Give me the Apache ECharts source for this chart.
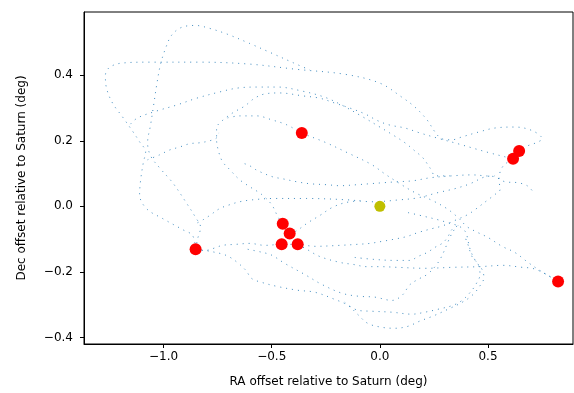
<!DOCTYPE html>
<html>
<head>
<meta charset="utf-8">
<script src="https://cdn.jsdelivr.net/npm/echarts@6/dist/echarts.min.js"></script>
<style>
  html, body { margin: 0; padding: 0; background: #fff; }
  #chart { width: 574px; height: 393px; }
</style>
</head>
<body>
<div id="chart"></div>
<script>
// moon positions at the plot epoch (deg, relative to Saturn)
const moonRA  = [-0.361, 0.644, 0.616, 0.824, -0.852, -0.449, -0.417, -0.454, -0.380];
const moonDec = [ 0.224, 0.169, 0.145, -0.229, -0.131, -0.053, -0.083, -0.116, -0.116];
const saturnPos = [0, 0];

// dotted tracks, [RA, Dec]
const trackA = [[-0.852,-0.131],[-0.866,-0.089],[-0.912,-0.071],[-1.005,-0.037],[-1.079,-0.007],[-1.111,0.036],[-1.106,0.081],[-1.093,0.136],[-1.083,0.166],[-1.111,0.197],[-1.144,0.230],[-1.190,0.273],[-1.236,0.315],[-1.264,0.361],[-1.269,0.400],[-1.250,0.424],[-1.194,0.437],[-1.065,0.440],[-0.833,0.440],[-0.602,0.434],[-0.384,0.418],[-0.162,0.403],[0.000,0.376],[0.102,0.333],[0.162,0.303],[0.218,0.264],[0.255,0.227],[0.287,0.206],[0.333,0.203],[0.380,0.212],[0.458,0.227],[0.532,0.239],[0.625,0.242],[0.708,0.230],[0.750,0.206],[0.722,0.194],[0.681,0.184],[0.644,0.169]];
const trackB = [[-0.852,-0.131],[-0.843,-0.100],[-0.829,-0.064],[-0.852,-0.034],[-0.898,0.014],[-0.958,0.072],[-1.019,0.118],[-1.060,0.154],[-1.074,0.194],[-1.060,0.249],[-1.046,0.309],[-1.032,0.370],[-1.014,0.434],[-0.991,0.482],[-0.963,0.522],[-0.917,0.546],[-0.852,0.552],[-0.787,0.543],[-0.704,0.525],[-0.602,0.497],[-0.509,0.470],[-0.407,0.440],[-0.324,0.416]];
const trackC = [[-1.153,0.251],[-1.120,0.270],[-1.032,0.291],[-0.940,0.309],[-0.847,0.330],[-0.741,0.349],[-0.657,0.361],[-0.565,0.364],[-0.472,0.364],[-0.361,0.352],[-0.255,0.333],[-0.176,0.309],[-0.079,0.273],[0.000,0.242],[0.060,0.218],[0.116,0.194],[0.162,0.169],[0.199,0.148],[0.231,0.118],[0.259,0.093],[0.324,0.093]];
const trackD = [[-0.449,-0.053],[-0.472,-0.031],[-0.500,0.005],[-0.546,0.036],[-0.602,0.060],[-0.648,0.081],[-0.694,0.112],[-0.727,0.136],[-0.745,0.166],[-0.755,0.203],[-0.755,0.239],[-0.731,0.260],[-0.681,0.285],[-0.625,0.306],[-0.579,0.330],[-0.532,0.343],[-0.463,0.346],[-0.356,0.337],[-0.278,0.330],[-0.208,0.315],[-0.139,0.300],[-0.069,0.282],[-0.009,0.261],[0.046,0.248],[0.116,0.239],[0.185,0.224],[0.278,0.206],[0.361,0.191],[0.444,0.175],[0.509,0.163],[0.579,0.151],[0.616,0.145]];
const trackE = [[-0.704,0.270],[-0.648,0.276],[-0.569,0.276],[-0.500,0.264],[-0.431,0.249],[-0.361,0.224],[-0.255,0.196],[-0.148,0.163],[-0.037,0.127],[0.023,0.099],[0.093,0.069],[0.162,0.042],[0.245,0.017],[0.310,-0.007],[0.361,-0.034],[0.403,-0.062],[0.444,-0.077],[0.500,-0.095],[0.565,-0.122],[0.625,-0.141],[0.685,-0.171],[0.731,-0.192],[0.778,-0.211],[0.824,-0.229]];
const trackF = [[-0.625,0.130],[-0.602,0.124],[-0.574,0.112],[-0.542,0.102],[-0.495,0.090],[-0.449,0.084],[-0.384,0.075],[-0.324,0.069],[-0.245,0.066],[-0.185,0.063],[-0.106,0.066],[-0.046,0.069],[0.014,0.072],[0.079,0.075],[0.153,0.078],[0.231,0.087],[0.333,0.093],[0.426,0.096],[0.486,0.093],[0.532,0.090],[0.579,0.075],[0.639,0.072],[0.681,0.063],[0.708,0.045]];
const trackG = [[-0.843,-0.050],[-0.815,-0.040],[-0.787,-0.028],[-0.741,-0.007],[-0.694,0.005],[-0.648,0.014],[-0.588,0.020],[-0.495,0.024],[-0.338,0.024],[-0.153,0.020],[-0.032,0.014],[0.093,0.020],[0.176,0.026],[0.269,0.042],[0.347,0.054],[0.417,0.069],[0.486,0.090],[0.532,0.093]];
const trackH = [[-0.852,-0.131],[-0.810,-0.135],[-0.773,-0.129],[-0.727,-0.119],[-0.667,-0.116],[-0.602,-0.113],[-0.532,-0.119],[-0.454,-0.116],[-0.380,-0.116],[-0.301,-0.122],[-0.185,-0.119],[-0.106,-0.116],[-0.046,-0.113],[0.009,-0.107],[0.060,-0.101],[0.125,-0.092],[0.176,-0.080],[0.241,-0.068],[0.292,-0.059],[0.347,-0.043],[0.407,-0.025],[0.440,-0.010],[0.500,0.020],[0.532,0.036],[0.556,0.052],[0.551,0.081],[0.556,0.105],[0.574,0.126],[0.616,0.145]];
const trackI = [[-0.380,-0.116],[-0.338,-0.131],[-0.278,-0.153],[-0.185,-0.171],[-0.125,-0.177],[-0.060,-0.184],[0.000,-0.184],[0.079,-0.186],[0.208,-0.189],[0.338,-0.186],[0.463,-0.184],[0.569,-0.180],[0.657,-0.186],[0.704,-0.189],[0.741,-0.198],[0.778,-0.211],[0.824,-0.229]];
const trackJ = [[-0.852,-0.131],[-0.787,-0.137],[-0.713,-0.149],[-0.667,-0.167],[-0.620,-0.195],[-0.593,-0.220],[-0.546,-0.232],[-0.477,-0.244],[-0.380,-0.256],[-0.301,-0.262],[-0.208,-0.284],[-0.148,-0.302],[-0.102,-0.330],[-0.056,-0.357],[0.009,-0.369],[0.069,-0.372],[0.130,-0.366],[0.185,-0.350],[0.245,-0.335],[0.315,-0.314],[0.380,-0.293],[0.426,-0.272],[0.458,-0.247],[0.481,-0.217],[0.472,-0.192],[0.444,-0.168],[0.421,-0.138],[0.407,-0.104],[0.398,-0.080],[0.370,-0.062],[0.315,-0.050],[0.269,-0.041],[0.208,-0.031],[0.130,-0.019]];
const trackK = [[-0.611,-0.131],[-0.546,-0.140],[-0.500,-0.149],[-0.440,-0.174],[-0.347,-0.208],[-0.269,-0.238],[-0.176,-0.265],[-0.102,-0.274],[-0.023,-0.277],[0.056,-0.287],[0.102,-0.272],[0.139,-0.239],[0.176,-0.223],[0.218,-0.208],[0.255,-0.184],[0.278,-0.162],[0.296,-0.138],[0.315,-0.108],[0.338,-0.077],[0.361,-0.059]];
const trackL = [[-0.162,-0.293],[-0.102,-0.317],[-0.037,-0.320],[0.056,-0.323],[0.148,-0.329],[0.208,-0.323],[0.269,-0.314],[0.338,-0.302],[0.380,-0.287],[0.417,-0.263],[0.444,-0.238],[0.463,-0.208],[0.454,-0.177],[0.426,-0.153],[0.407,-0.116],[0.389,-0.086]];
const trackM = [[-0.116,-0.156],[-0.023,-0.162],[0.069,-0.165],[0.139,-0.165],[0.176,-0.153],[0.218,-0.141],[0.255,-0.125],[0.292,-0.111],[0.315,-0.092],[0.333,-0.071],[0.361,-0.059]];
const trackN = [[-0.417,-0.083],[-0.384,-0.074],[-0.333,-0.050],[-0.278,-0.028],[-0.222,-0.004],[-0.162,0.011],[-0.093,0.017]];
const trackO = [[-1.074,0.142],[-1.019,0.157],[-0.972,0.172],[-0.926,0.181],[-0.880,0.191],[-0.833,0.194],[-0.787,0.200],[-0.755,0.209],[-0.745,0.224]];

const tracks = [trackA, trackB, trackC, trackD, trackE, trackF, trackG, trackH,
                trackI, trackJ, trackK, trackL, trackM, trackN, trackO];

const fmt = v => (v < 0 ? '\u2212' : '') + Math.abs(v).toFixed(1);
const font = 'DejaVu Sans';

function axisCommon(name) {
  return {
    type: 'value',
    name: name,
    nameLocation: 'middle',
    nameTextStyle: { color: '#000', fontSize: 12, fontFamily: font },
    splitLine: { show: false },
    axisLine: { show: true, onZero: false, lineStyle: { color: '#000', width: 1 } },
    axisTick: { show: true, inside: false, length: 4, lineStyle: { color: '#000' } },
    axisLabel: { color: '#000', fontSize: 12, fontFamily: font, formatter: fmt,
                 showMinLabel: false, showMaxLabel: false }
  };
}

const chart = echarts.init(document.getElementById('chart'), null, { renderer: 'canvas' });

const xAxis = axisCommon('RA offset relative to Saturn (deg)');
xAxis.min = -1.368; xAxis.max = 0.893; xAxis.nameGap = 32;
xAxis.axisLabel.margin = 7;
const yAxis = axisCommon('Dec offset relative to Saturn (deg)');
yAxis.min = -0.420; yAxis.max = 0.593; yAxis.nameGap = 56;
yAxis.axisLabel.margin = 11;

const series = tracks.map(t => ({
  type: 'line',
  data: t,
  smooth: 0.35,
  showSymbol: false,
  silent: true,
  lineStyle: { color: '#1f77b4', width: 1, type: [1, 5], opacity: 0.85 },
  z: 2
}));

series.push({
  type: 'scatter',
  data: moonRA.map((x, i) => [x, moonDec[i]]),
  symbolSize: 12,
  itemStyle: { color: '#ff0000', opacity: 1 },
  silent: true,
  z: 3
});
series.push({
  type: 'scatter',
  data: [saturnPos],
  symbolSize: 11,
  itemStyle: { color: '#bfbf00', opacity: 1 },
  silent: true,
  z: 3
});

chart.setOption({
  animation: false,
  backgroundColor: '#fff',
  grid: { left: 84, right: 1, top: 12, bottom: 48, show: true,
          borderColor: '#000', borderWidth: 1, containLabel: false },
  xAxis: xAxis,
  yAxis: yAxis,
  series: series
});
</script>
</body>
</html>
